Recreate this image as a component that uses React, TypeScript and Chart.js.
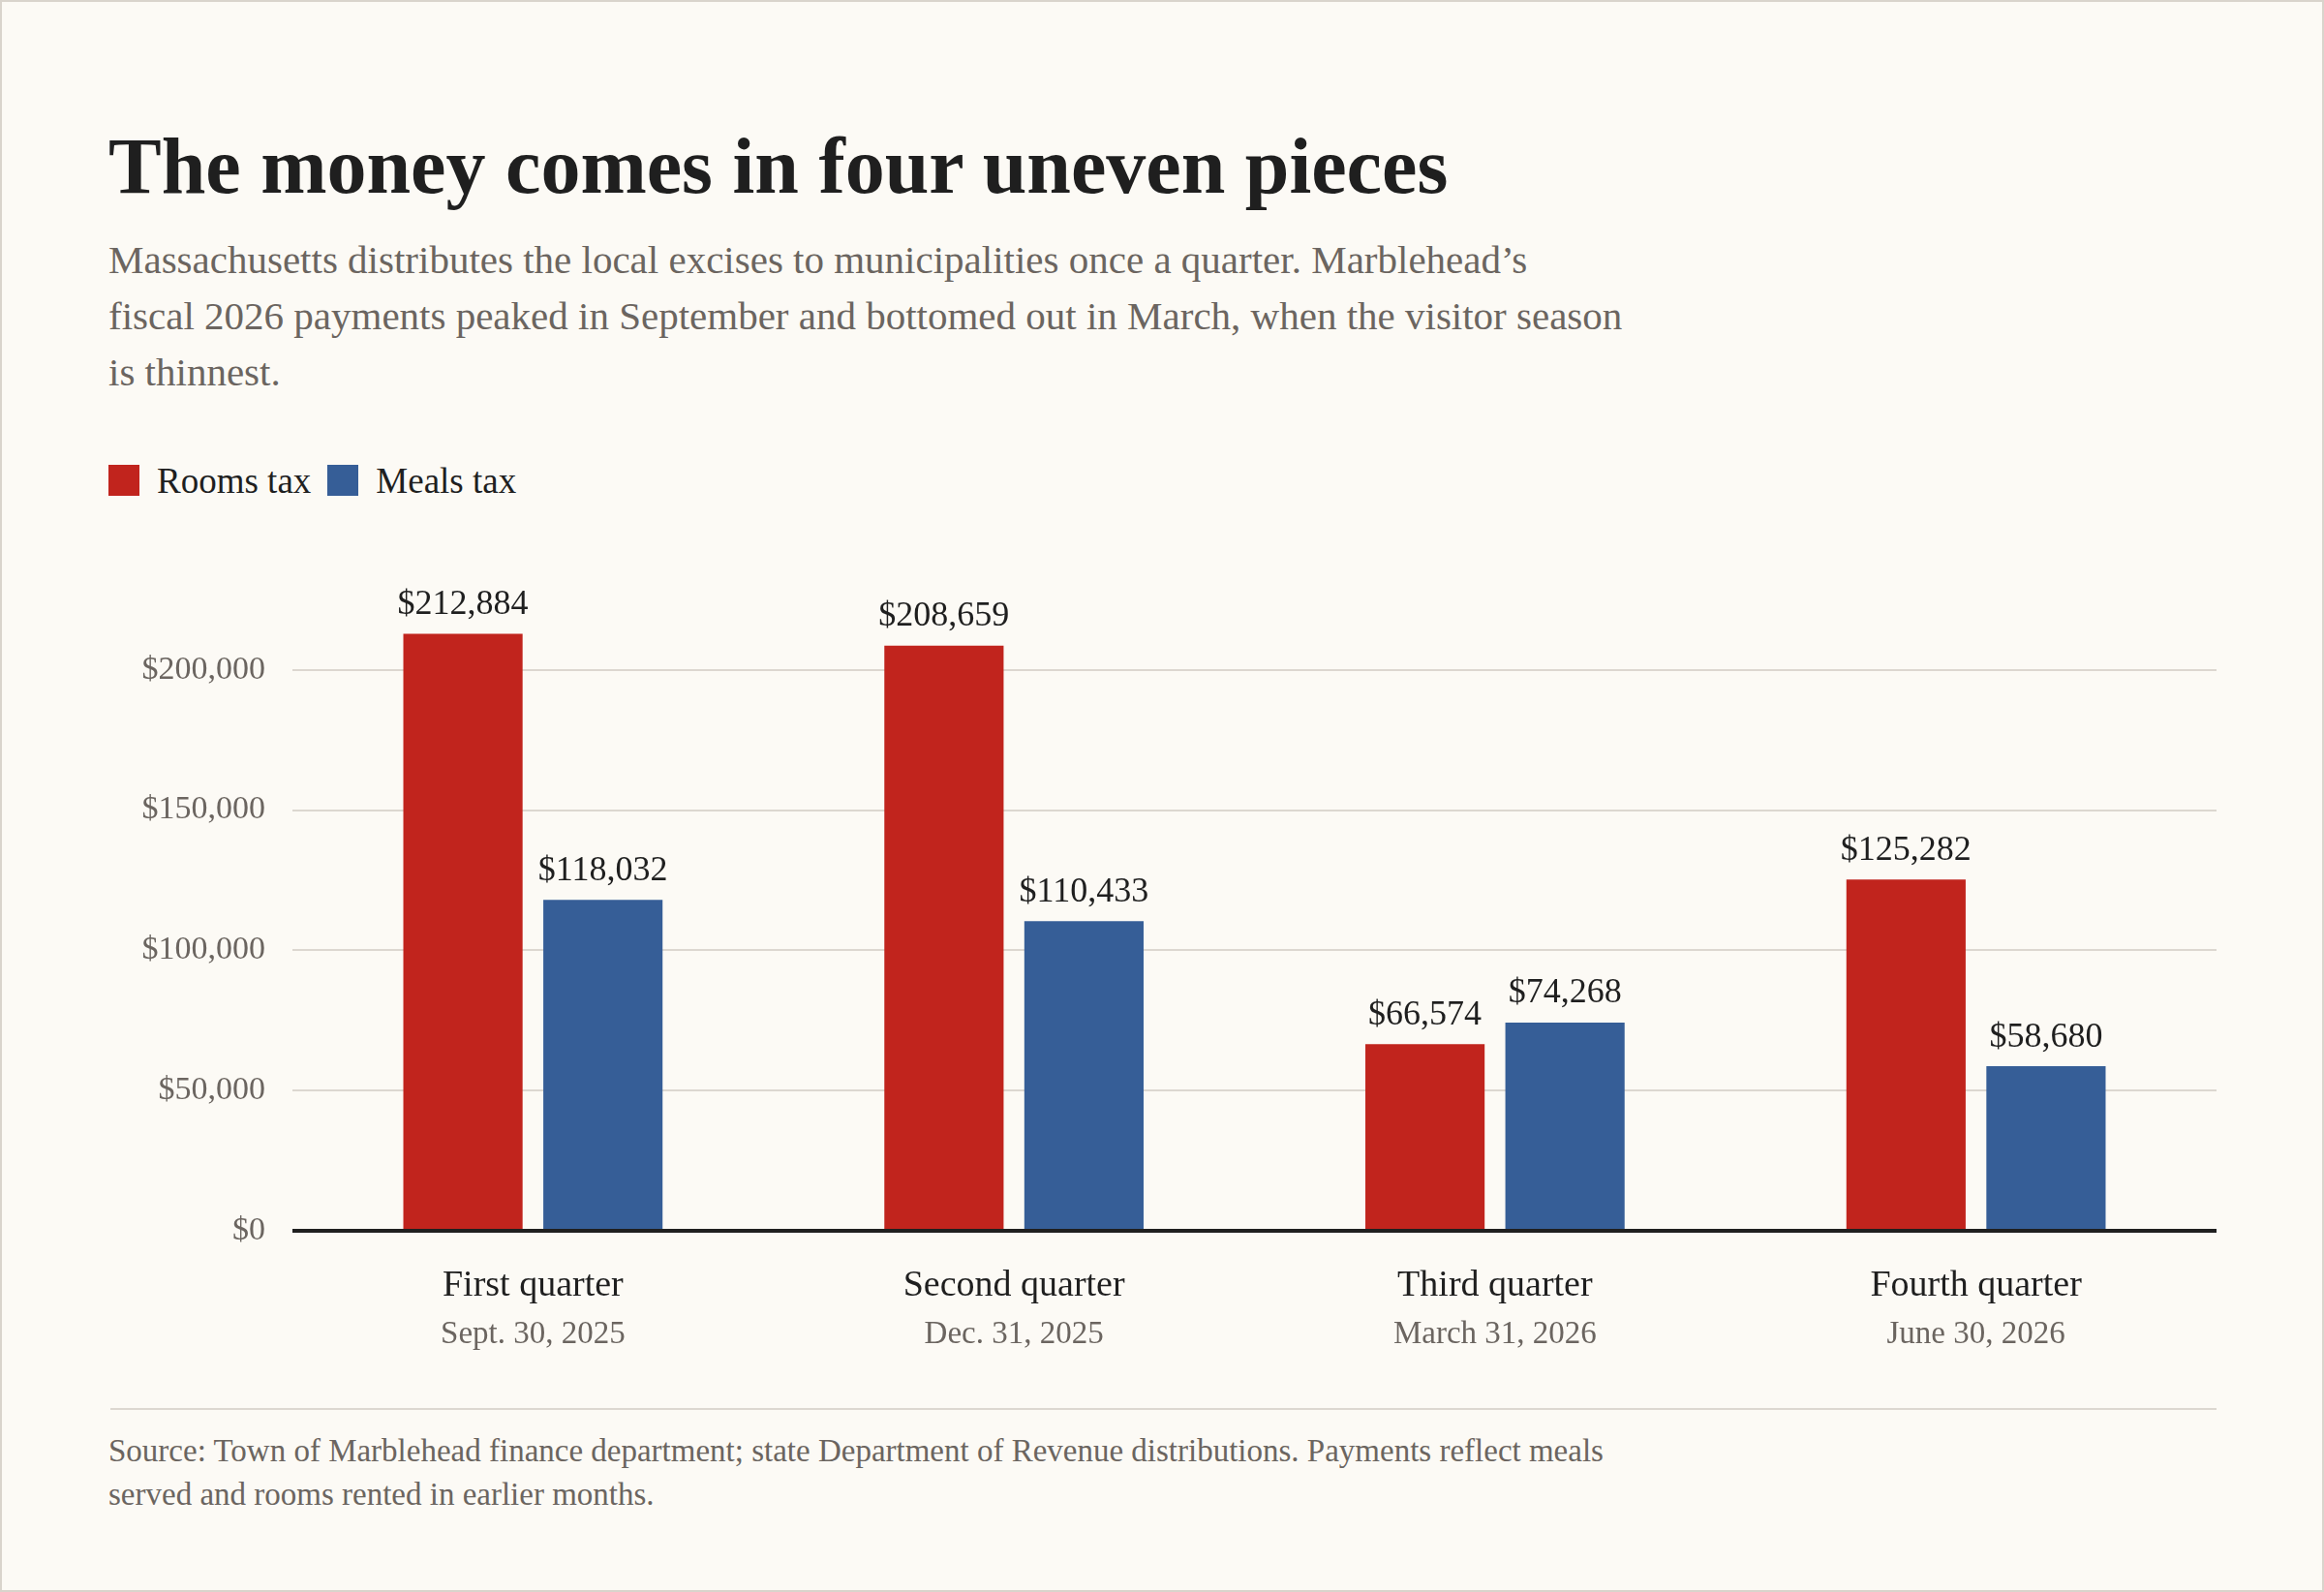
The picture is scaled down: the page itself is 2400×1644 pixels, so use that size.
import { useEffect, useRef } from "react";
import { Chart, registerables } from "chart.js";
import type { Plugin } from "chart.js";

Chart.register(...registerables);

const quarters = ["First quarter", "Second quarter", "Third quarter", "Fourth quarter"];
const quarterDates = ["Sept. 30, 2025", "Dec. 31, 2025", "March 31, 2026", "June 30, 2026"];
const roomsTax = [212884, 208659, 66574, 125282];
const mealsTax = [118032, 110433, 74268, 58680];
const yTicks = [0, 50000, 100000, 150000, 200000];

const RED = "#c1241d";
const BLUE = "#365e97";
const INK = "#1f1f1f";
const GRAY = "#6b6560";
const BG = "#fcfaf5";
const SERIF = "'Liberation Serif', 'DejaVu Serif', serif";

const money = (v: number) => "$" + v.toLocaleString("en-US");

const decorations: Plugin<"bar"> = {
  id: "decorations",
  afterDatasetsDraw(chart) {
    const { ctx, chartArea, scales } = chart;
    const zero = scales.y.getPixelForValue(0);
    ctx.save();
    // baseline over the bar feet
    ctx.strokeStyle = INK;
    ctx.lineWidth = 4;
    ctx.beginPath();
    ctx.moveTo(chartArea.left, zero);
    ctx.lineTo(chartArea.right, zero);
    ctx.stroke();

    // value labels
    ctx.fillStyle = INK;
    ctx.font = `36px ${SERIF}`;
    ctx.textAlign = "center";
    ctx.textBaseline = "bottom";
    chart.data.datasets.forEach((ds, di) => {
      const meta = chart.getDatasetMeta(di);
      meta.data.forEach((bar, i) => {
        ctx.fillText(money(ds.data[i] as number), bar.x, bar.y - 12);
      });
    });

    // two-line category labels
    ctx.textBaseline = "middle";
    quarters.forEach((q, i) => {
      const x = scales.x.getPixelForValue(i);
      ctx.fillStyle = INK;
      ctx.font = `38px ${SERIF}`;
      ctx.fillText(q, x, chartArea.bottom + 57);
      ctx.fillStyle = GRAY;
      ctx.font = `33px ${SERIF}`;
      ctx.fillText(quarterDates[i], x, chartArea.bottom + 107);
    });
    ctx.restore();
  },
};

function BarChart() {
  const canvasRef = useRef<HTMLCanvasElement | null>(null);

  useEffect(() => {
    if (!canvasRef.current) return;
    const chart = new Chart(canvasRef.current, {
      type: "bar",
      data: {
        labels: quarters,
        datasets: [
          { label: "Rooms tax", data: roomsTax, backgroundColor: RED },
          { label: "Meals tax", data: mealsTax, backgroundColor: BLUE },
        ],
      },
      options: {
        animation: false,
        responsive: true,
        maintainAspectRatio: false,
        layout: { padding: { top: 42, right: 0, bottom: 0, left: 0 } },
        datasets: { bar: { categoryPercentage: 0.582, barPercentage: 0.852 } },
        plugins: {
          legend: { display: false },
          tooltip: { enabled: false },
        },
        scales: {
          x: {
            grid: { display: false },
            border: { display: false },
            ticks: { display: false },
            afterFit: (axis) => {
              axis.height = 151;
            },
          },
          y: {
            min: 0,
            max: 235000,
            border: { display: false },
            grid: {
              drawTicks: false,
              lineWidth: 2,
              color: (c) => (c.tick && c.tick.value === 0 ? "rgba(0,0,0,0)" : "#dcd7d0"),
            },
            ticks: {
              padding: 28,
              color: GRAY,
              font: { family: SERIF, size: 34 },
              callback: (v) => money(Number(v)),
            },
            afterBuildTicks: (axis) => {
              axis.ticks = yTicks.map((value) => ({ value }));
            },
            afterFit: (axis) => {
              axis.width = 188;
            },
          },
        },
      },
      plugins: [decorations],
    });
    return () => chart.destroy();
  }, []);

  return (
    <div style={{ position: "absolute", left: 112, top: 540, width: 2175, height: 880 }}>
      <canvas ref={canvasRef} />
    </div>
  );
}

const legendItems = [
  { label: "Rooms tax", color: RED },
  { label: "Meals tax", color: BLUE },
];

export default function App() {
  useEffect(() => {
    document.body.style.margin = "0";
  }, []);

  return (
    <div
      style={{
        position: "relative",
        width: 2400,
        height: 1644,
        boxSizing: "border-box",
        border: "2px solid #d9d4cc",
        background: BG,
        fontFamily: SERIF,
        overflow: "hidden",
      }}
    >
      <div
        style={{
          position: "absolute",
          left: 110,
          top: 122,
          fontSize: 82,
          lineHeight: "96px",
          fontWeight: 700,
          color: INK,
          whiteSpace: "nowrap",
        }}
      >
        The money comes in four uneven pieces
      </div>
      <div
        style={{
          position: "absolute",
          left: 110,
          top: 237,
          fontSize: 41,
          lineHeight: "58px",
          color: GRAY,
          whiteSpace: "nowrap",
        }}
      >
        Massachusetts distributes the local excises to municipalities once a quarter. Marblehead’s
        <br />
        fiscal 2026 payments peaked in September and bottomed out in March, when the visitor season
        <br />
        is thinnest.
      </div>
      <div
        style={{
          position: "absolute",
          left: 110,
          top: 474,
          height: 40,
          display: "flex",
          alignItems: "center",
          fontSize: 37,
          color: INK,
        }}
      >
        {legendItems.map((it) => (
          <div key={it.label} style={{ display: "flex", alignItems: "center", marginRight: 17 }}>
            <span style={{ width: 32, height: 32, background: it.color, marginRight: 18 }} />
            <span>{it.label}</span>
          </div>
        ))}
      </div>
      <BarChart />
      <div
        style={{
          position: "absolute",
          left: 112,
          top: 1452,
          width: 2175,
          height: 2,
          background: "#dcd7d0",
        }}
      />
      <div
        style={{
          position: "absolute",
          left: 110,
          top: 1474,
          fontSize: 33,
          lineHeight: "45px",
          color: GRAY,
          whiteSpace: "nowrap",
        }}
      >
        Source: Town of Marblehead finance department; state Department of Revenue distributions. Payments reflect meals
        <br />
        served and rooms rented in earlier months.
      </div>
    </div>
  );
}
